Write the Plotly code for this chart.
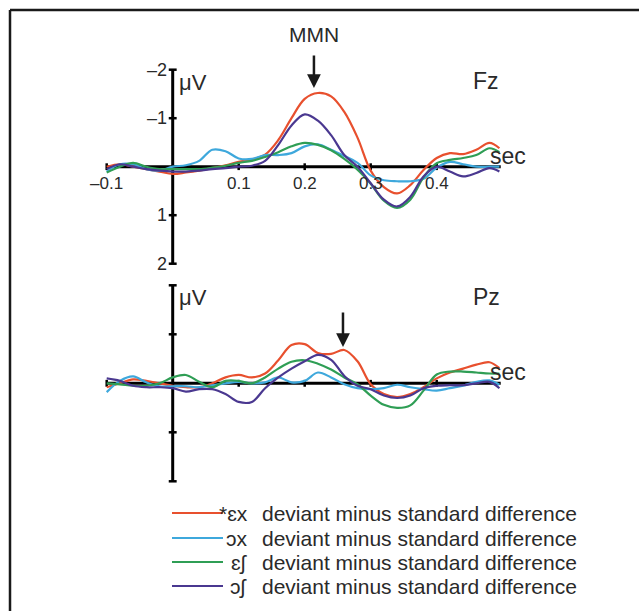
import plotly.graph_objects as go

W, H = 639, 611

# ---------------- data ----------------
time_s = [-0.10, -0.08, -0.06, -0.04, -0.02, 0.00, 0.02, 0.04, 0.06, 0.08,
          0.10, 0.12, 0.14, 0.16, 0.18, 0.20, 0.22, 0.24, 0.26, 0.28,
          0.30, 0.32, 0.34, 0.36, 0.38, 0.40, 0.42, 0.44, 0.46, 0.48, 0.495]

series_names = ["*\u025bx", "\u0254x", "\u025b\u0283", "\u0254\u0283"]
series_colors = ["#e8502e", "#3ea8dc", "#2f9e55", "#4a3890"]

fz_ex_star = [0.00, -0.05, 0.00, 0.05, 0.10, 0.15, 0.12, 0.08, 0.03, -0.03,
              -0.10, -0.15, -0.25, -0.55, -1.00, -1.40, -1.52, -1.45, -1.13, -0.60,
              0.08, 0.42, 0.55, 0.38, 0.07, -0.18, -0.28, -0.26, -0.35, -0.49, -0.38]
fz_ox = [0.10, -0.05, -0.05, 0.05, 0.08, 0.00, -0.03, -0.12, -0.35, -0.32,
         -0.17, -0.16, -0.24, -0.24, -0.28, -0.42, -0.46, -0.35, -0.22, -0.08,
         0.18, 0.28, 0.30, 0.30, 0.25, 0.02, -0.10, -0.05, 0.00, 0.00, 0.00]
fz_esh = [0.12, 0.00, -0.08, 0.00, 0.05, 0.05, 0.05, 0.05, 0.02, -0.02,
          -0.08, -0.12, -0.20, -0.30, -0.42, -0.49, -0.45, -0.34, -0.16, 0.06,
          0.35, 0.70, 0.85, 0.68, 0.22, -0.07, -0.14, -0.18, -0.24, -0.38, -0.30]
fz_osh = [0.05, -0.05, 0.00, 0.05, 0.08, 0.10, 0.10, 0.08, 0.05, 0.03,
          0.00, -0.02, -0.12, -0.45, -0.85, -1.08, -0.95, -0.65, -0.24, 0.00,
          0.34, 0.68, 0.82, 0.62, 0.20, 0.00, 0.10, 0.20, 0.13, 0.03, 0.10]

pz_ex_star = [0.08, 0.00, -0.08, -0.05, 0.00, 0.05, 0.08, 0.08, 0.00, -0.12,
              -0.17, -0.12, -0.20, -0.47, -0.78, -0.80, -0.62, -0.60, -0.68, -0.45,
              0.02, 0.22, 0.28, 0.22, 0.08, -0.10, -0.22, -0.30, -0.38, -0.43, -0.31]
pz_ox = [0.18, -0.05, -0.14, -0.02, 0.06, 0.06, 0.06, 0.08, 0.04, 0.00,
         -0.03, 0.00, -0.02, -0.12, -0.02, -0.05, -0.22, -0.12, 0.02, 0.10,
         0.12, 0.10, 0.03, 0.08, 0.12, 0.15, 0.10, 0.05, -0.03, -0.06, 0.03]
pz_esh = [0.00, 0.02, 0.05, 0.05, 0.00, -0.12, -0.17, -0.03, 0.08, -0.05,
          -0.05, 0.00, -0.12, -0.30, -0.44, -0.47, -0.40, -0.28, -0.12, 0.02,
          0.25, 0.44, 0.50, 0.45, 0.15, -0.18, -0.24, -0.24, -0.22, -0.20, -0.20]
pz_osh = [-0.10, -0.05, 0.05, 0.08, 0.08, 0.10, 0.17, 0.12, 0.12, 0.22,
          0.38, 0.38, 0.10, -0.12, -0.30, -0.45, -0.58, -0.48, -0.15, 0.05,
          0.12, 0.25, 0.30, 0.25, 0.10, 0.05, 0.04, 0.04, 0.00, -0.03, 0.10]

fz_series = [fz_ex_star, fz_ox, fz_esh, fz_osh]
pz_series = [pz_ex_star, pz_ox, pz_esh, pz_osh]

x_ticks = [-0.1, 0.1, 0.2, 0.3, 0.4]
x_tick_labels = ["\u20130.1", "0.1", "0.2", "0.3", "0.4"]
y_ticks = [-2, -1, 1, 2]
y_tick_labels = ["\u20132", "\u20131", "1", "2"]
x_axis_end = 0.497

fz_arrow_t = 0.214
pz_arrow_t = 0.258

legend_suffix = "deviant minus standard difference"

# ---------------- figure ----------------
def px(x):
    return x / W

def py(y):
    return 1 - y / H

X0_PIX, PIX_PER_S = 172.7, 660.0
FZ_Y0, FZ_PPU = 166.7, 48.5
PZ_Y0, PZ_PPU = 383.3, 49.0

fig = go.Figure()

for vals, name, col in zip(fz_series, series_names, series_colors):
    fig.add_trace(go.Scatter(x=time_s, y=vals, mode="lines", name=name,
                             line=dict(color=col, width=2.2, shape="spline", smoothing=1.0),
                             xaxis="x", yaxis="y", showlegend=False, hoverinfo="skip"))
for vals, name, col in zip(pz_series, series_names, series_colors):
    fig.add_trace(go.Scatter(x=time_s, y=vals, mode="lines", name=name,
                             line=dict(color=col, width=2.2, shape="spline", smoothing=1.0),
                             xaxis="x2", yaxis="y2", showlegend=False, hoverinfo="skip"))

xr = [-X0_PIX / PIX_PER_S, (W - X0_PIX) / PIX_PER_S]
fz_top, fz_bot = 40, 280
pz_top, pz_bot = 280, 500
ax_common = dict(visible=False, showgrid=False, zeroline=False, fixedrange=True)
fig.update_layout(
    width=W, height=H,
    margin=dict(l=0, r=0, t=0, b=0),
    paper_bgcolor="white", plot_bgcolor="rgba(0,0,0,0)",
    font=dict(family="Liberation Sans, Arial, sans-serif", color="#2a2a2a"),
    xaxis=dict(domain=[0, 1], range=xr, anchor="y", **ax_common),
    yaxis=dict(domain=[py(fz_bot), py(fz_top)],
               range=[(fz_bot - FZ_Y0) / FZ_PPU, (fz_top - FZ_Y0) / FZ_PPU], anchor="x", **ax_common),
    xaxis2=dict(domain=[0, 1], range=xr, anchor="y2", **ax_common),
    yaxis2=dict(domain=[py(pz_bot), py(pz_top)],
                range=[(pz_bot - PZ_Y0) / PZ_PPU, (pz_top - PZ_Y0) / PZ_PPU], anchor="x2", **ax_common),
    showlegend=False,
)

shapes = []
annos = []
AX = dict(color="black", width=3)
TK = dict(color="black", width=2.5)

for xa, ya, labels in (("x", "y", True), ("x2", "y2", False)):
    shapes.append(dict(type="line", xref=xa, yref=ya, x0=x_ticks[0], x1=x_axis_end, y0=0, y1=0,
                       line=AX, layer="between"))
    shapes.append(dict(type="line", xref=xa, yref=ya, x0=0, x1=0, y0=y_ticks[0], y1=y_ticks[-1],
                       line=AX, layer="between"))
    for t in x_ticks:
        shapes.append(dict(type="line", xref=xa, yref=ya, x0=t, x1=t, y0=-0.07, y1=0.07,
                           line=TK, layer="between"))
    for v in y_ticks:
        shapes.append(dict(type="line", xref=xa, yref=ya, x0=-0.006, x1=0.006, y0=v, y1=v,
                           line=TK, layer="between"))
    if labels:
        for t, lab in zip(x_ticks, x_tick_labels):
            annos.append(dict(xref=xa, yref=ya, x=t, y=0, yshift=-17, text=lab, showarrow=False,
                              font=dict(size=17), xanchor="center", yanchor="middle"))
        for v, lab in zip(y_ticks, y_tick_labels):
            annos.append(dict(xref=xa, yref=ya, x=0, y=v, xshift=-4, text=lab, showarrow=False,
                              font=dict(size=18), xanchor="right", yanchor="middle"))

annos += [
    dict(xref="paper", yref="paper", x=px(177), y=py(82), text="\u03bcV", showarrow=False,
         font=dict(size=22), xanchor="left", yanchor="middle"),
    dict(xref="paper", yref="paper", x=px(486), y=py(81), text="Fz", showarrow=False,
         font=dict(size=23), xanchor="center", yanchor="middle"),
    dict(xref="paper", yref="paper", x=px(508), y=py(156), text="sec", showarrow=False,
         font=dict(size=23), xanchor="center", yanchor="middle"),
    dict(xref="paper", yref="paper", x=px(177), y=py(297), text="\u03bcV", showarrow=False,
         font=dict(size=22), xanchor="left", yanchor="middle"),
    dict(xref="paper", yref="paper", x=px(486), y=py(297), text="Pz", showarrow=False,
         font=dict(size=23), xanchor="center", yanchor="middle"),
    dict(xref="paper", yref="paper", x=px(508), y=py(372), text="sec", showarrow=False,
         font=dict(size=23), xanchor="center", yanchor="middle"),
    dict(xref="paper", yref="paper", x=px(314), y=py(34), text="MMN", showarrow=False,
         font=dict(size=21), xanchor="center", yanchor="middle"),
]

annos.append(dict(xref="x", yref="y", x=fz_arrow_t, y=(88 - FZ_Y0) / FZ_PPU, text="",
                  showarrow=True, ax=0, ay=-34, arrowhead=2, arrowsize=1.1, arrowwidth=2.5,
                  arrowcolor="#1a1a1a"))
annos.append(dict(xref="x2", yref="y2", x=pz_arrow_t, y=(347 - PZ_Y0) / PZ_PPU, text="",
                  showarrow=True, ax=0, ay=-36, arrowhead=2, arrowsize=1.1, arrowwidth=2.5,
                  arrowcolor="#1a1a1a"))

legend_rows = [513, 538, 562, 586]
for yrow, name, col in zip(legend_rows, series_names, series_colors):
    shapes.append(dict(type="line", xref="paper", yref="paper", x0=px(172), x1=px(223),
                       y0=py(yrow), y1=py(yrow), line=dict(color=col, width=2.2)))
    annos.append(dict(xref="paper", yref="paper", x=px(250), y=py(yrow), text=name,
                      showarrow=False, font=dict(size=21), xanchor="right", yanchor="middle"))
    annos.append(dict(xref="paper", yref="paper", x=px(260), y=py(yrow), text=legend_suffix,
                      showarrow=False, font=dict(size=21), xanchor="left", yanchor="middle"))

shapes.append(dict(type="line", xref="paper", yref="paper", x0=px(10), x1=1, y0=py(10), y1=py(10),
                   line=dict(color="#1a1a1a", width=2.5)))
shapes.append(dict(type="line", xref="paper", yref="paper", x0=px(10), x1=px(10), y0=py(10), y1=0,
                   line=dict(color="#1a1a1a", width=2.5)))

fig.update_layout(shapes=shapes, annotations=annos)
fig.write_html("out.html", config={"displayModeBar": False, "staticPlot": True},
               post_script="document.body.style.margin='0px';document.body.style.padding='0px';")
